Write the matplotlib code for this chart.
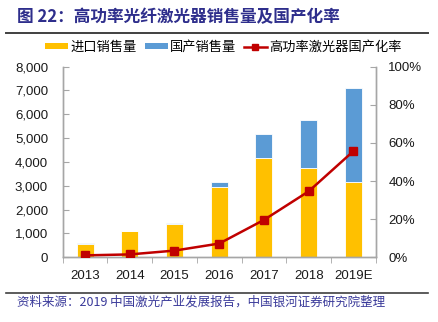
import matplotlib
matplotlib.use("Agg")
import matplotlib.pyplot as plt
from matplotlib.ticker import FuncFormatter
from matplotlib.lines import Line2D
from matplotlib.patches import Patch
import numpy as np

plt.rcParams['font.family'] = ['Liberation Sans', 'Noto Sans CJK SC', 'DejaVu Sans']

years = ["2013", "2014", "2015", "2016", "2017", "2018", "2019E"]
imported = [575, 1100, 1380, 2950, 4150, 3760, 3150]
domestic = [6, 17, 50, 230, 1010, 1990, 3960]
localization_rate = [1.0, 1.5, 3.5, 7.2, 19.6, 34.6, 55.7]

title_text = "图 22：高功率光纤激光器销售量及国产化率"
source_text = "资料来源：2019 中国激光产业发展报告，中国银河证券研究院整理"
legend_labels = ["进口销售量", "国产销售量", "高功率激光器国产化率"]

c_yellow = "#FFC000"
c_blue = "#5B9BD5"
c_red = "#C00000"
c_axis = "#A6A6A6"
c_title = "#2E2E8C"

fig = plt.figure(figsize=(4.38, 3.22), dpi=100)
ax = fig.add_axes([0.143, 0.201, 0.715, 0.592])
ax2 = ax.twinx()

x = np.arange(len(years))
w = 0.38
ax.bar(x, imported, width=w, color=c_yellow, edgecolor="white", linewidth=0.6, zorder=2)
ax.bar(x, domestic, width=w, bottom=imported, color=c_blue, edgecolor="white",
       linewidth=0.6, zorder=2)

ax2.plot(x, localization_rate, color=c_red, linewidth=1.8, marker="s",
         markersize=5.5, markerfacecolor=c_red, markeredgecolor=c_red, zorder=3)

ax.set_xlim(-0.5, len(years) - 0.5)
ax.set_ylim(0, 8000)
ax.set_yticks(np.arange(0, 8001, 1000))
ax.yaxis.set_major_formatter(FuncFormatter(lambda v, p: f"{int(v):,}"))
ax2.set_ylim(0, 100)
ax2.set_yticks(np.arange(0, 101, 20))
ax2.yaxis.set_major_formatter(FuncFormatter(lambda v, p: f"{int(v)}%"))

ax.set_xticks(x)
ax.set_xticklabels(years)
ax.set_xticks(np.arange(-0.5, len(years), 1), minor=True)
ax.tick_params(axis="x", which="major", length=0, pad=9, labelsize=9.5, colors="#1a1a1a")
ax.tick_params(axis="x", which="minor", length=4, direction="out", color=c_axis)
ax.tick_params(axis="y", direction="in", length=4, color=c_axis, labelsize=9.5,
               labelcolor="#1a1a1a", pad=10.5)
ax2.tick_params(axis="y", direction="in", length=4, color=c_axis, labelsize=9.5,
                labelcolor="#1a1a1a", pad=9)

for a in (ax, ax2):
    a.spines["top"].set_visible(False)
    for s in ("left", "right", "bottom"):
        a.spines[s].set_color(c_axis)
        a.spines[s].set_linewidth(1.0)
ax2.set_zorder(ax.get_zorder() + 1)
ax2.patch.set_visible(False)

handles = [
    Patch(facecolor=c_yellow, edgecolor="none"),
    Patch(facecolor=c_blue, edgecolor="none"),
    Line2D([0], [0], color=c_red, linewidth=1.8, marker="s", markersize=5),
]
fig.legend(handles, legend_labels, loc="center", bbox_to_anchor=(0.51, 0.853), ncol=3,
           frameon=False, handlelength=1.75, handleheight=0.3,
           handletextpad=0.15, columnspacing=0.6, borderpad=0.2,
           prop={"family": ["Noto Sans CJK SC"], "size": 9.5})

fig.text(0.038, 0.948, title_text, fontsize=12, fontweight="bold", color=c_title,
         family=["Noto Sans CJK SC"], va="center", ha="left")
fig.add_artist(Line2D([0.014, 0.978], [0.899, 0.899], color="#404040", linewidth=1.4,
                      transform=fig.transFigure))
fig.add_artist(Line2D([0.014, 0.978], [0.09, 0.09], color="#404040", linewidth=1.2,
                      transform=fig.transFigure))
fig.text(0.038, 0.062, source_text, fontsize=9, color="#3A3A9A", style="italic",
         family=["Noto Sans CJK SC"], va="center", ha="left")

fig.savefig("out.png", dpi=100)
